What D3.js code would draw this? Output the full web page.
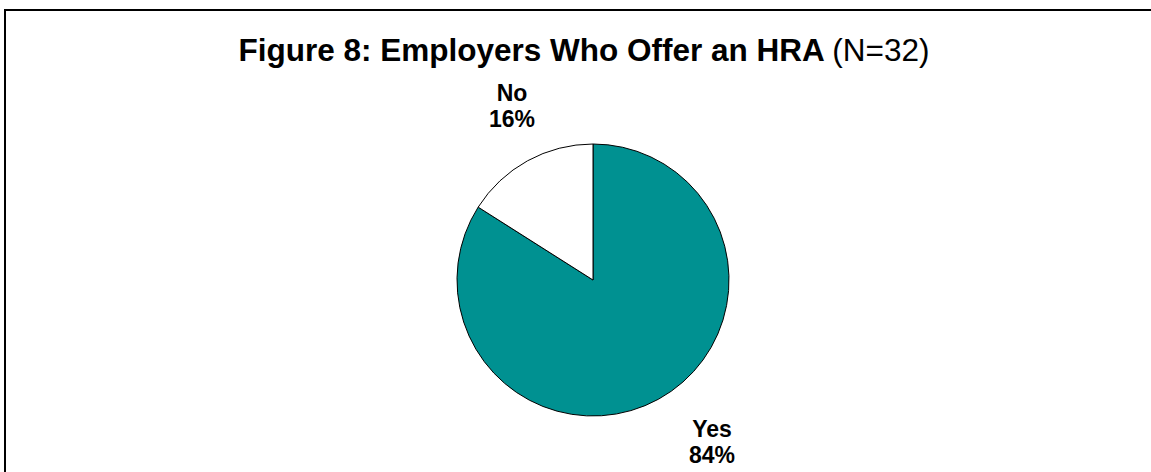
<!DOCTYPE html>
<html>
<head>
<meta charset="utf-8">
<script src="https://cdn.jsdelivr.net/npm/d3@7"></script>
<style>
  html, body { margin: 0; padding: 0; background: #fff; }
  svg { display: block; }
  text { font-family: Arial, "Liberation Sans", sans-serif; fill: #000; }
</style>
</head>
<body>
<svg id="chart" width="1151" height="472"></svg>
<script>
// Survey answers: does the employer offer a Health Reimbursement Arrangement?
const categories = ["Yes", "No"];
const shares = [84, 16];            // percent of respondents
const sliceColors = ["#009191", "#ffffff"];
const titleBold = "Figure 8: Employers Who Offer an HRA";
const titleNote = "(N=32)";

const W = 1151, H = 472;
const cx = 593, cy = 280, radius = 136;

const svg = d3.select("#chart");

// Frame around the chart area
svg.append("rect")
  .attr("x", 5).attr("y", 10)
  .attr("width", W + 10).attr("height", H + 10)
  .attr("fill", "none")
  .attr("stroke", "#000")
  .attr("stroke-width", 2);

// Title
const title = svg.append("text")
  .attr("x", 584).attr("y", 61)
  .attr("text-anchor", "middle")
  .style("font-size", "31.5px");
title.append("tspan").style("font-weight", "bold").text(titleBold + " ");
title.append("tspan").style("font-weight", "normal").text(titleNote);

// Pie: "Yes" runs clockwise from 12 o'clock, "No" fills the remainder
const data = categories.map((c, i) => ({ cat: c, value: shares[i], color: sliceColors[i] }));
const pie = d3.pie().value(d => d.value).sort(null);
const arcs = pie(data);
const arc = d3.arc().innerRadius(0).outerRadius(radius);

const g = svg.append("g").attr("transform", `translate(${cx},${cy})`);
g.selectAll("path.slice")
  .data(arcs)
  .join("path")
  .attr("class", "slice")
  .attr("d", arc)
  .attr("fill", d => d.data.color)
  .attr("stroke", "#000")
  .attr("stroke-width", 1)
  .attr("stroke-linejoin", "round");

// Category labels outside the pie, along each slice's bisector
const labelOffset = {
  Yes: { dx: 119, dy: 157 },
  No: { dx: -81, dy: -179 }
};
const lab = g.selectAll("text.lab")
  .data(arcs)
  .join("text")
  .attr("class", "lab")
  .attr("text-anchor", "middle")
  .attr("x", d => labelOffset[d.data.cat].dx)
  .attr("y", d => labelOffset[d.data.cat].dy)
  .style("font-size", "23px")
  .style("font-weight", "bold");
lab.append("tspan")
  .attr("x", d => labelOffset[d.data.cat].dx)
  .text(d => d.data.cat);
lab.append("tspan")
  .attr("x", d => labelOffset[d.data.cat].dx)
  .attr("dy", 26)
  .text(d => d.data.value + "%");
</script>
</body>
</html>
